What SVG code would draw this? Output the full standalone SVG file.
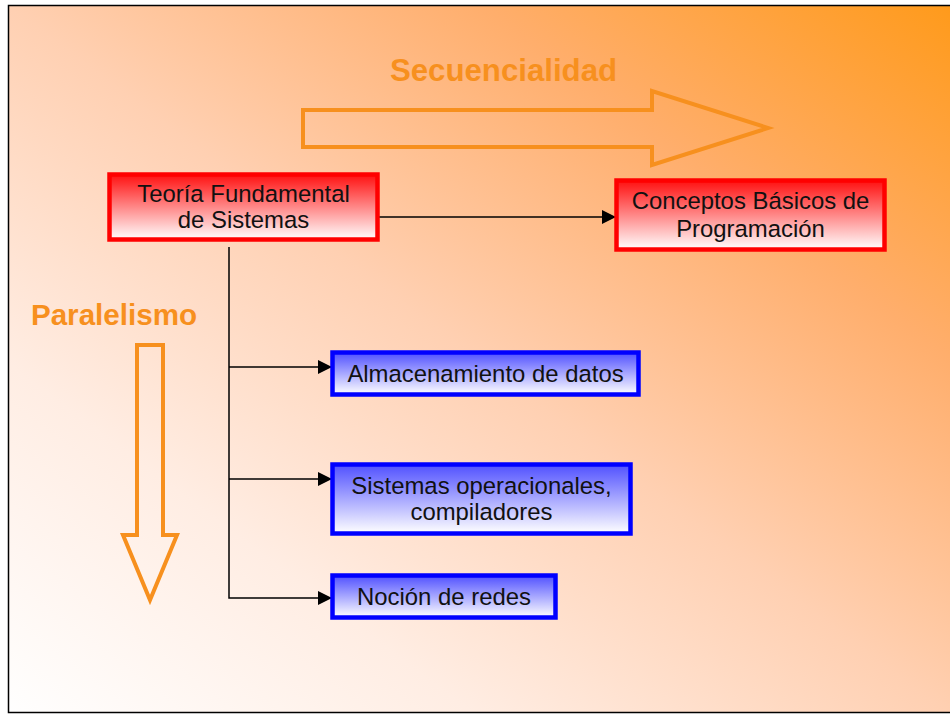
<svg xmlns="http://www.w3.org/2000/svg" width="950" height="715" viewBox="0 0 950 715">
<defs>
<linearGradient id="bg" gradientUnits="userSpaceOnUse" x1="950" y1="0" x2="263" y2="913">
<stop offset="0" stop-color="#FF9A1A"/>
<stop offset="0.25" stop-color="#FFAE6C"/>
<stop offset="0.5" stop-color="#FFD0B2"/>
<stop offset="0.75" stop-color="#FFEDE3"/>
<stop offset="1" stop-color="#FFFFFF"/>
</linearGradient>
<linearGradient id="redFill" x1="0" y1="0" x2="0" y2="1">
<stop offset="0" stop-color="#FF1010"/>
<stop offset="1" stop-color="#FFFFFF"/>
</linearGradient>
<linearGradient id="blueFill" x1="0" y1="0" x2="0" y2="1">
<stop offset="0" stop-color="#5050FF"/>
<stop offset="1" stop-color="#FFFFFF"/>
</linearGradient>
<marker id="arr" markerUnits="userSpaceOnUse" markerWidth="14" markerHeight="14" refX="13" refY="7" orient="auto">
<path d="M0,0 L14,7 L0,14 Z" fill="#000"/>
</marker>
<style>
.red{fill:url(#redFill);stroke:#FF0000;stroke-width:4.5}
.blue{fill:url(#blueFill);stroke:#0000FF;stroke-width:4.5}
.t{font-family:"Liberation Sans",Arial,sans-serif;font-size:23.9px;fill:#111;text-anchor:middle}
.big{font-family:"Liberation Sans",Arial,sans-serif;font-weight:bold;fill:#F7901E;text-anchor:middle}
.oarrow{fill:none;stroke:#F7901E;stroke-width:4;stroke-linejoin:miter}
.conn{fill:none;stroke:#000;stroke-width:1.5}
</style>
</defs>
<rect x="8.5" y="5.5" width="960" height="707" fill="url(#bg)" stroke="#000" stroke-width="1.5"/>

<g id="secuencialidad">
<text class="big" x="503.5" y="81" font-size="31.2">Secuencialidad</text>
<path class="oarrow" d="M303,110 L652,110 L652,91 L768,128 L652,165 L652,147 L303,147 Z"/>
</g>
<g id="paralelismo">
<text class="big" x="114" y="325" font-size="29.6">Paralelismo</text>
<path class="oarrow" d="M137,345 L163,345 L163,535 L177,535 L150,600 L123,535 L137,535 Z"/>
</g>

<g id="connectors">
<line class="conn" x1="379" y1="217" x2="615" y2="217" marker-end="url(#arr)"/>
<polyline class="conn" points="229,247 229,598 331,598" marker-end="url(#arr)"/>
<line class="conn" x1="229" y1="367" x2="331" y2="367" marker-end="url(#arr)"/>
<line class="conn" x1="229" y1="479" x2="331" y2="479" marker-end="url(#arr)"/>
</g>

<g id="teoria">
<rect class="red" x="109.5" y="174.5" width="268" height="65"/>
<text class="t" x="243.5" y="202">Teoría Fundamental</text>
<text class="t" x="243.5" y="228">de Sistemas</text>
</g>
<g id="conceptos">
<rect class="red" x="616.5" y="180.5" width="268" height="69"/>
<text class="t" x="750.5" y="209">Conceptos Básicos de</text>
<text class="t" x="750.5" y="237">Programación</text>
</g>
<g id="almacenamiento">
<rect class="blue" x="332.5" y="352.5" width="306" height="42"/>
<text class="t" x="485.5" y="382">Almacenamiento de datos</text>
</g>
<g id="sistemas">
<rect class="blue" x="332.5" y="464.5" width="298" height="69"/>
<text class="t" x="481.5" y="494">Sistemas operacionales,</text>
<text class="t" x="481.5" y="520">compiladores</text>
</g>
<g id="nocion">
<rect class="blue" x="332.5" y="575.5" width="223" height="42"/>
<text class="t" x="444" y="605">Noción de redes</text>
</g>
</svg>
